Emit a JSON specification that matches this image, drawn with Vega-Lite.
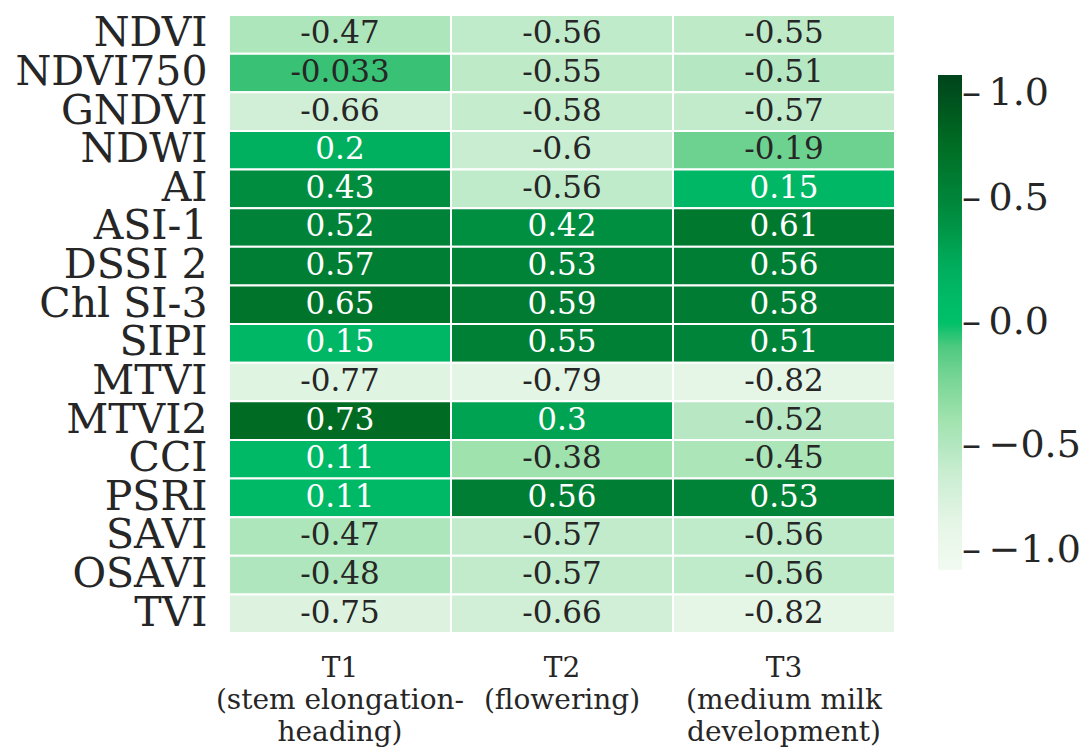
{
  "$schema": "https://vega.github.io/schema/vega-lite/v6.json",
  "width": 666,
  "height": 618,
  "autosize": "none",
  "padding": {"left": 229, "top": 15, "right": 192, "bottom": 114},
  "background": "white",
  "config": {"view": {"stroke": null}, "font": "DejaVu Serif"},
  "data": {
    "values": [
      {"index": "NDVI", "t": "T1\n(stem elongation-\nheading)", "r": -0.47},
      {"index": "NDVI", "t": "T2\n(flowering)", "r": -0.56},
      {"index": "NDVI", "t": "T3\n(medium milk\ndevelopment)", "r": -0.55},
      {"index": "NDVI750", "t": "T1\n(stem elongation-\nheading)", "r": -0.033},
      {"index": "NDVI750", "t": "T2\n(flowering)", "r": -0.55},
      {"index": "NDVI750", "t": "T3\n(medium milk\ndevelopment)", "r": -0.51},
      {"index": "GNDVI", "t": "T1\n(stem elongation-\nheading)", "r": -0.66},
      {"index": "GNDVI", "t": "T2\n(flowering)", "r": -0.58},
      {"index": "GNDVI", "t": "T3\n(medium milk\ndevelopment)", "r": -0.57},
      {"index": "NDWI", "t": "T1\n(stem elongation-\nheading)", "r": 0.2},
      {"index": "NDWI", "t": "T2\n(flowering)", "r": -0.6},
      {"index": "NDWI", "t": "T3\n(medium milk\ndevelopment)", "r": -0.19},
      {"index": "AI", "t": "T1\n(stem elongation-\nheading)", "r": 0.43},
      {"index": "AI", "t": "T2\n(flowering)", "r": -0.56},
      {"index": "AI", "t": "T3\n(medium milk\ndevelopment)", "r": 0.15},
      {"index": "ASI-1", "t": "T1\n(stem elongation-\nheading)", "r": 0.52},
      {"index": "ASI-1", "t": "T2\n(flowering)", "r": 0.42},
      {"index": "ASI-1", "t": "T3\n(medium milk\ndevelopment)", "r": 0.61},
      {"index": "DSSI 2", "t": "T1\n(stem elongation-\nheading)", "r": 0.57},
      {"index": "DSSI 2", "t": "T2\n(flowering)", "r": 0.53},
      {"index": "DSSI 2", "t": "T3\n(medium milk\ndevelopment)", "r": 0.56},
      {"index": "Chl SI-3", "t": "T1\n(stem elongation-\nheading)", "r": 0.65},
      {"index": "Chl SI-3", "t": "T2\n(flowering)", "r": 0.59},
      {"index": "Chl SI-3", "t": "T3\n(medium milk\ndevelopment)", "r": 0.58},
      {"index": "SIPI", "t": "T1\n(stem elongation-\nheading)", "r": 0.15},
      {"index": "SIPI", "t": "T2\n(flowering)", "r": 0.55},
      {"index": "SIPI", "t": "T3\n(medium milk\ndevelopment)", "r": 0.51},
      {"index": "MTVI", "t": "T1\n(stem elongation-\nheading)", "r": -0.77},
      {"index": "MTVI", "t": "T2\n(flowering)", "r": -0.79},
      {"index": "MTVI", "t": "T3\n(medium milk\ndevelopment)", "r": -0.82},
      {"index": "MTVI2", "t": "T1\n(stem elongation-\nheading)", "r": 0.73},
      {"index": "MTVI2", "t": "T2\n(flowering)", "r": 0.3},
      {"index": "MTVI2", "t": "T3\n(medium milk\ndevelopment)", "r": -0.52},
      {"index": "CCI", "t": "T1\n(stem elongation-\nheading)", "r": 0.11},
      {"index": "CCI", "t": "T2\n(flowering)", "r": -0.38},
      {"index": "CCI", "t": "T3\n(medium milk\ndevelopment)", "r": -0.45},
      {"index": "PSRI", "t": "T1\n(stem elongation-\nheading)", "r": 0.11},
      {"index": "PSRI", "t": "T2\n(flowering)", "r": 0.56},
      {"index": "PSRI", "t": "T3\n(medium milk\ndevelopment)", "r": 0.53},
      {"index": "SAVI", "t": "T1\n(stem elongation-\nheading)", "r": -0.47},
      {"index": "SAVI", "t": "T2\n(flowering)", "r": -0.57},
      {"index": "SAVI", "t": "T3\n(medium milk\ndevelopment)", "r": -0.56},
      {"index": "OSAVI", "t": "T1\n(stem elongation-\nheading)", "r": -0.48},
      {"index": "OSAVI", "t": "T2\n(flowering)", "r": -0.57},
      {"index": "OSAVI", "t": "T3\n(medium milk\ndevelopment)", "r": -0.56},
      {"index": "TVI", "t": "T1\n(stem elongation-\nheading)", "r": -0.75},
      {"index": "TVI", "t": "T2\n(flowering)", "r": -0.66},
      {"index": "TVI", "t": "T3\n(medium milk\ndevelopment)", "r": -0.82}
    ]
  },
  "encoding": {
    "x": {
      "field": "t", "type": "nominal", "sort": null, "title": null,
      "scale": {"paddingInner": 0, "paddingOuter": 0},
      "axis": {
        "labelAngle": 0, "ticks": false, "domain": false, "labelPadding": 21,
        "labelFont": "DejaVu Serif", "labelFontSize": 28, "labelColor": "#262626",
        "labelLineHeight": 32, "labelBaseline": "top", "labelLimit": 0,
        "labelExpr": "split(datum.label, '\\n')"
      }
    },
    "y": {
      "field": "index", "type": "nominal", "sort": null, "title": null,
      "scale": {"paddingInner": 0, "paddingOuter": 0},
      "axis": {
        "ticks": false, "domain": false, "labelPadding": 22,
        "labelFont": "DejaVu Serif", "labelFontSize": 41, "labelColor": "#262626",
        "labelLimit": 0
      }
    }
  },
  "layer": [
    {
      "mark": {"type": "rect", "stroke": "white", "strokeWidth": 2},
      "encoding": {
        "color": {
          "field": "r", "type": "quantitative",
          "scale": {
            "domain": [-1, -0.8, -0.6, -0.5, -0.38, -0.19, -0.03, -0.005, 0, 0.15, 0.3, 0.43, 0.55, 0.73, 1],
            "range": ["#f2faf1", "#e4f5e5", "#c8edd0", "#b3e7c0", "#9fe2ad", "#6dd28f", "#38c274", "#33c173", "#00c068", "#00b765", "#00a352", "#008d40", "#008035", "#006b22", "#00441b"],
            "interpolate": "rgb"
          },
          "legend": {
            "orient": "none", "legendX": 709, "legendY": 60, "title": null,
            "gradientLength": 495, "gradientThickness": 24, "gradientStrokeWidth": 0,
            "values": [-1, -0.5, 0, 0.5, 1], "format": ".1f",
            "labelExpr": "'–\u2009' + datum.label",
            "labelFont": "DejaVu Serif", "labelFontSize": 38, "labelColor": "#262626",
            "labelOffset": 0, "labelBaseline": "middle", "labelOverlap": false, "labelLimit": 0
          }
        }
      }
    },
    {
      "mark": {"type": "text", "font": "DejaVu Serif", "fontSize": 31, "baseline": "middle"},
      "encoding": {
        "text": {"field": "r", "type": "nominal"},
        "color": {
          "condition": {"test": "datum.r > 0", "value": "white"},
          "value": "#262626"
        }
      }
    }
  ]
}
